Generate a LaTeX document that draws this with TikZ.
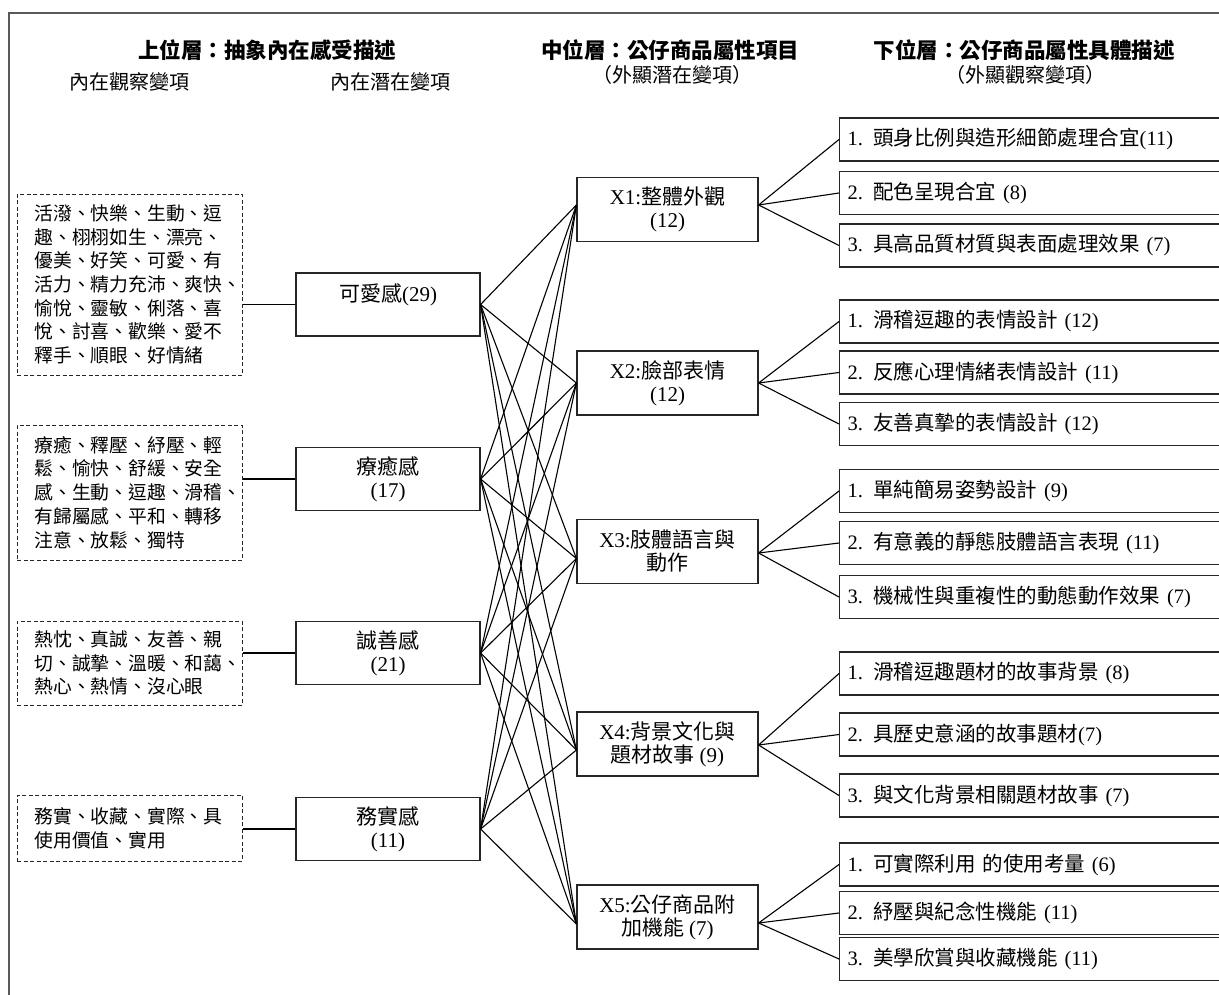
\documentclass[tikz,border=0pt]{standalone}
\usepackage{fontspec}
\setmainfont{Noto Sans CJK TC}
\newfontfamily\latfont{Liberation Serif}
\newcommand\ltn[1]{{\latfont #1}}
\begin{document}
\begin{tikzpicture}[x=1pt,y=-1pt,
  frame/.style={draw=black!65, line width=2pt},
  hdr/.style={font=\fontsize{21.5}{24}\selectfont\bfseries, inner sep=0pt},
  sub/.style={font=\fontsize{20}{23}\selectfont, inner sep=0pt},
  dbox/.style={draw=black!85, dash pattern=on 4pt off 2.5pt, line width=1pt, text width=190pt, align=left, inner xsep=17.5pt, inner ysep=0pt, font=\fontsize{18.8}{23.7}\selectfont},
  lbox/.style={draw=black!85, line width=1.2pt, minimum width=184pt, minimum height=63pt, align=center, inner sep=0pt, font=\fontsize{21}{23}\selectfont},
  xbox/.style={draw=black!85, line width=1.2pt, minimum width=181pt, minimum height=64pt, align=center, inner sep=0pt, font=\fontsize{21}{23}\selectfont},
  rbox/.style={draw=black!85, line width=1.2pt, anchor=west, minimum height=43pt, text width=385pt, align=left, inner xsep=8pt, inner ysep=0pt, font=\fontsize{20.5}{23}\selectfont},
  link/.style={draw=black, line width=1.1pt}
]
\useasboundingbox (0,0) rectangle (1219,994);
\fill[white] (0,0) rectangle (1219,994);
\draw[frame] (1230,13) -- (8.5,13) -- (8.5,1000);

% headers
\node[hdr] (h1) at (267,50) {上位層：抽象內在感受描述};
\node[sub] (h1a) at (129,82) {內在觀察變項};
\node[sub] (h1b) at (390,82) {內在潛在變項};
\node[hdr] (h2) at (670,50) {中位層：公仔商品屬性項目};
\node[sub] (h2a) at (672,75) {（外顯潛在變項）};
\node[hdr] (h3) at (1024,50) {下位層：公仔商品屬性具體描述};
\node[sub] (h3a) at (1025,75) {（外顯觀察變項）};

% observed (dashed) boxes
\node[dbox, minimum height=181pt] (D1) at (129.5,284.5) {活潑、快樂、生動、逗\\趣、栩栩如生、漂亮、\\優美、好笑、可愛、有\\活力、精力充沛、爽快、\\愉悅、靈敏、俐落、喜\\悅、討喜、歡樂、愛不\\釋手、順眼、好情緒};
\node[dbox, minimum height=135pt] (D2) at (129.5,492.5) {療癒、釋壓、紓壓、輕\\鬆、愉快、舒緩、安全\\感、生動、逗趣、滑稽、\\有歸屬感、平和、轉移\\注意、放鬆、獨特};
\node[dbox, minimum height=84pt] (D3) at (129.5,663) {熱忱、真誠、友善、親\\切、誠摯、溫暖、和藹、\\熱心、熱情、沒心眼};
\node[dbox, minimum height=66pt] (D4) at (129.5,828) {務實、收藏、實際、具\\使用價值、實用};

% latent boxes
\node[lbox] (L1) at (388,304.5) {可愛感\ltn{(29)}\\\phantom{可}};
\node[lbox] (L2) at (388,479) {療癒感\\\ltn{(17)}};
\node[lbox] (L3) at (388,653) {誠善感\\\ltn{(21)}};
\node[lbox] (L4) at (388,829) {務實感\\\ltn{(11)}};

% middle boxes
\node[xbox] (X1) at (667.5,209.5) {\ltn{X1:}整體外觀\\\ltn{(12)}};
\node[xbox] (X2) at (667.5,383) {\ltn{X2:}臉部表情\\\ltn{(12)}};
\node[xbox] (X3) at (667.5,551.5) {\ltn{X3:}肢體語言與\\動作};
\node[xbox] (X4) at (667.5,744) {\ltn{X4:}背景文化與\\題材故事 \ltn{(9)}};
\node[xbox] (X5) at (667.5,917) {\ltn{X5:}公仔商品附\\加機能 \ltn{(7)}};

% right boxes
\node[rbox] (R1a) at (839,139.5) {\ltn{1.} 頭身比例與造形細節處理合宜\ltn{(11)}};
\node[rbox] (R1b) at (839,193) {\ltn{2.} 配色呈現合宜 \ltn{(8)}};
\node[rbox] (R1c) at (839,245.5) {\ltn{3.} 具高品質材質與表面處理效果 \ltn{(7)}};
\node[rbox] (R2a) at (839,321.5) {\ltn{1.} 滑稽逗趣的表情設計 \ltn{(12)}};
\node[rbox] (R2b) at (839,372.5) {\ltn{2.} 反應心理情緒表情設計 \ltn{(11)}};
\node[rbox] (R2c) at (839,424) {\ltn{3.} 友善真摯的表情設計 \ltn{(12)}};
\node[rbox] (R3a) at (839,491) {\ltn{1.} 單純簡易姿勢設計 \ltn{(9)}};
\node[rbox] (R3b) at (839,543) {\ltn{2.} 有意義的靜態肢體語言表現 \ltn{(11)}};
\node[rbox] (R3c) at (839,597) {\ltn{3.} 機械性與重複性的動態動作效果 \ltn{(7)}};
\node[rbox] (R4a) at (839,673.5) {\ltn{1.} 滑稽逗趣題材的故事背景 \ltn{(8)}};
\node[rbox] (R4b) at (839,734.5) {\ltn{2.} 具歷史意涵的故事題材\ltn{(7)}};
\node[rbox] (R4c) at (839,795.5) {\ltn{3.} 與文化背景相關題材故事 \ltn{(7)}};
\node[rbox] (R5a) at (839,864.5) {\ltn{1.} 可實際利用 的使用考量 \ltn{(6)}};
\node[rbox] (R5b) at (839,913) {\ltn{2.} 紓壓與紀念性機能 \ltn{(11)}};
\node[rbox] (R5c) at (839,959) {\ltn{3.} 美學欣賞與收藏機能 \ltn{(11)}};

% convergence points
\coordinate (c1) at ([yshift=4.5pt]X1.west);
\coordinate (c2) at (X2.west);
\coordinate (c3) at ([yshift=-7pt]X3.west);
\coordinate (c4) at ([yshift=-6pt]X4.west);
\coordinate (c5) at ([yshift=-7pt]X5.west);
\coordinate (e1) at ([yshift=4.5pt]X1.east);
\coordinate (e2) at (X2.east);
\coordinate (e3) at ([yshift=-1.5pt]X3.east);
\coordinate (e4) at ([yshift=-1pt]X4.east);
\coordinate (e5) at ([yshift=-6pt]X5.east);

% observed to latent
\foreach \d/\l in {D1/L1,D2/L2,D3/L3,D4/L4}
  \draw[link] (\l.west) -- (\d.east |- \l.west);

% latent to middle (complete)
\foreach \l in {L1,L2,L3,L4}
  \foreach \c in {c1,c2,c3,c4,c5}
    \draw[link] (\l.east) -- (\c);

% middle to right
\foreach \e/\r in {e1/R1a,e1/R1b,e1/R1c,e2/R2a,e2/R2b,e2/R2c,e3/R3a,e3/R3b,e3/R3c,e4/R4a,e4/R4b,e4/R4c,e5/R5a,e5/R5b,e5/R5c}
  \draw[link] (\e) -- (\r.west);
\end{tikzpicture}
\end{document}
